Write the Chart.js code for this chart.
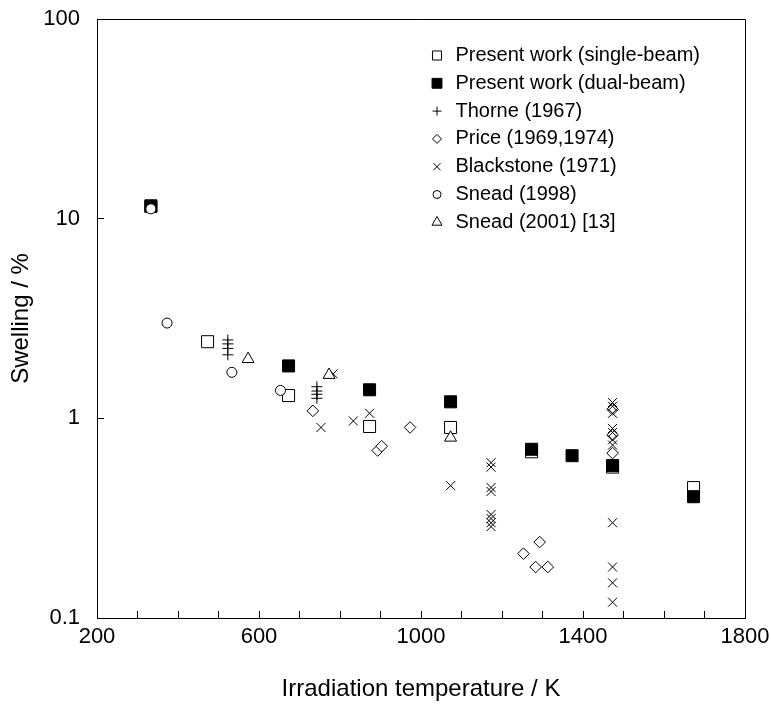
<!DOCTYPE html>
<html>
<head>
<meta charset="utf-8">
<script src="https://cdn.jsdelivr.net/npm/chart.js@4.4.1/dist/chart.umd.min.js"></script>
<style>
body { margin: 0; background: #fff; }
#wrap { width: 771px; height: 707px; }
</style>
</head>
<body>
<div id="wrap"><canvas id="chart" width="771" height="707"></canvas></div>
<script>
// values (temperature in K, swelling in %)
const singleT = [333, 473, 673, 873, 1073, 1273, 1473, 1673];
const singleS = [11.5, 2.42, 1.30, 0.91, 0.90, 0.68, 0.57, 0.45];
const dualT = [333, 673, 873, 1073, 1273, 1373, 1473, 1673];
const dualS = [11.6, 1.83, 1.39, 1.21, 0.70, 0.65, 0.58, 0.405];
const thorneT = [523, 523, 523, 523, 743, 743, 743, 743];
const thorneS = [2.47, 2.36, 2.24, 2.08, 1.44, 1.37, 1.32, 1.26];
const priceT = [733, 893, 903, 973, 1253, 1283, 1293, 1313, 1473, 1473, 1473];
const priceS = [1.09, 0.69, 0.725, 0.90, 0.21, 0.18, 0.24, 0.18, 1.11, 0.825, 0.67];
const blackT = [753, 783, 833, 873, 1073,
  1173, 1173, 1173, 1173, 1173, 1173, 1173, 1173,
  1473, 1473, 1473, 1473, 1473, 1473, 1473, 1473, 1473, 1473, 1473];
const blackS = [0.90, 1.67, 0.97, 1.06, 0.46,
  0.60, 0.57, 0.45, 0.43, 0.33, 0.315, 0.30, 0.287,
  1.20, 1.15, 1.06, 0.89, 0.85, 0.78, 0.735, 0.30, 0.18, 0.15, 0.12];
const snead98T = [333, 373, 533, 653];
const snead98S = [11.2, 3.0, 1.70, 1.38];
const snead01T = [573, 773, 1073];
const snead01S = [1.98, 1.65, 0.80];

const seriesNames = ["Present work (single-beam)", "Present work (dual-beam)", "Thorne (1967)",
  "Price (1969,1974)", "Blackstone (1971)", "Snead (1998)", "Snead (2001) [13]"];
const xTickLabels = [200, 600, 1000, 1400, 1800];
const yTicks = [0.1, 1, 10, 100];

const FONT = '"Liberation Sans", Arial, Helvetica, sans-serif';
Chart.defaults.font.family = FONT;
Chart.defaults.color = "#000";

function pts(xs, ys) {
  return xs.map((x, i) => ({ x: x, y: ys[i] }));
}

function series(i, xs, ys, style, radius, fill, legendRadius) {
  return {
    label: seriesNames[i],
    data: pts(xs, ys),
    pointStyle: style,
    pointRadius: radius,
    pointHoverRadius: radius,
    pointBackgroundColor: fill,
    pointBorderColor: "#000",
    pointBorderWidth: 1,
    showLine: false,
    order: 7 - i, // later series drawn on top, like the original
    legendRadius: legendRadius
  };
}

// no extra room for overhanging tick labels, the plot box is fixed
function noPad(s) {
  s.paddingTop = 0;
  s.paddingBottom = 0;
  s.paddingLeft = 0;
  s.paddingRight = 0;
}

// box on top/right + legend inside the plot
const boxLegend = {
  id: "boxLegend",
  afterDraw(chart) {
    const ctx = chart.ctx;
    const a = chart.chartArea;
    ctx.save();
    ctx.strokeStyle = "#000";
    ctx.lineWidth = 1;
    ctx.beginPath();
    ctx.moveTo(a.left, a.top + 0.5);
    ctx.lineTo(a.right + 0.5, a.top + 0.5);
    ctx.lineTo(a.right + 0.5, a.bottom);
    ctx.stroke();

    ctx.font = "20px " + FONT;
    ctx.textBaseline = "middle";
    ctx.textAlign = "left";
    chart.data.datasets.forEach((ds, i) => {
      const x = a.left + 340;
      const y = a.top + 36.5 + i * 27.8;
      ctx.fillStyle = ds.pointBackgroundColor;
      ctx.strokeStyle = "#000";
      ctx.lineWidth = 1;
      Chart.helpers.drawPoint(ctx, {
        pointStyle: ds.pointStyle, radius: ds.legendRadius, borderWidth: 1, rotation: 0
      }, x, y);
      ctx.fillStyle = "#000";
      ctx.fillText(ds.label, x + 18.5, y);
    });
    ctx.restore();
  }
};

new Chart(document.getElementById("chart"), {
  type: "scatter",
  data: {
    datasets: [
      series(0, singleT, singleS, "rect", 8.5, "#fff", 6.4),
      series(1, dualT, dualS, "rect", 8.5, "#000", 7),
      series(2, thorneT, thorneS, "cross", 5.5, "#fff", 4.5),
      series(3, priceT, priceS, "rectRot", 5.8, "#fff", 4.5),
      series(4, blackT, blackS, "crossRot", 6.4, "#fff", 5),
      series(5, snead98T, snead98S, "circle", 5, "#fff", 4),
      series(6, snead01T, snead01S, "triangle", 6.9, "#fff", 5.8)
    ]
  },
  options: {
    responsive: false,
    animation: false,
    layout: { padding: { top: 19, right: 26, left: 0, bottom: 0 } },
    plugins: {
      legend: { display: false },
      tooltip: { enabled: false }
    },
    scales: {
      x: {
        type: "linear",
        min: 200,
        max: 1800,
        grid: { drawOnChartArea: false, drawTicks: true, tickLength: -7, color: "#000" },
        border: { display: true, color: "#000", width: 1 },
        ticks: {
          stepSize: 100,
          autoSkip: false,
          maxRotation: 0,
          padding: 13,
          color: "#000",
          font: { size: 22 },
          callback: v => xTickLabels.includes(v) ? String(v) : ""
        },
        title: {
          display: true,
          text: "Irradiation temperature / K",
          color: "#000",
          font: { size: 24 },
          padding: { top: 0, bottom: 3 }
        },
        afterFit: s => { s.height = 89; noPad(s); }
      },
      y: {
        type: "logarithmic",
        min: 0.1,
        max: 100,
        afterBuildTicks: s => { s.ticks = yTicks.map(v => ({ value: v })); },
        grid: { drawOnChartArea: false, drawTicks: true, tickLength: -7, color: "#000" },
        border: { display: true, color: "#000", width: 1 },
        ticks: {
          padding: 24,
          color: "#000",
          font: { size: 22 },
          callback: v => String(v)
        },
        title: {
          display: true,
          text: "Swelling / %",
          color: "#000",
          font: { size: 24 },
          padding: { top: 7, bottom: 0 }
        },
        afterFit: s => { s.width = 97; noPad(s); }
      }
    }
  },
  plugins: [boxLegend]
});
</script>
</body>
</html>
